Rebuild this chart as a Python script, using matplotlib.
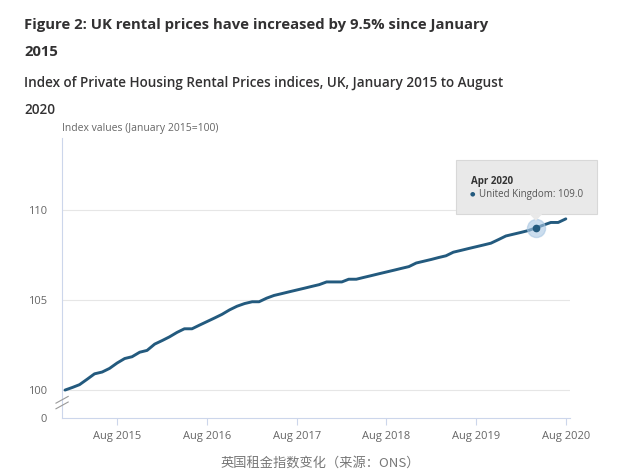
import pandas as pd
import matplotlib.pyplot as plt
import matplotlib.dates as mdates
import matplotlib.transforms as mtransforms
from matplotlib.patches import Rectangle, Polygon

plt.rcParams['font.family'] = ['Open Sans', 'DejaVu Sans']

# monthly UK index, Jan 2015 = 100
months = pd.date_range("2015-01-01", "2020-08-01", freq="MS")
uk_index = [
    100.0, 100.15, 100.3, 100.6, 100.9, 101.0, 101.2, 101.5, 101.75, 101.85, 102.1, 102.2,
    102.55, 102.75, 102.95, 103.2, 103.4, 103.4, 103.6, 103.8, 104.0, 104.2, 104.45, 104.65,
    104.8, 104.9, 104.9, 105.1, 105.25, 105.35, 105.45, 105.55, 105.65, 105.75, 105.85, 106.0,
    106.0, 106.0, 106.15, 106.15, 106.25, 106.35, 106.45, 106.55, 106.65, 106.75, 106.85, 107.05,
    107.15, 107.25, 107.35, 107.45, 107.65, 107.75, 107.85, 107.95, 108.05, 108.15, 108.35, 108.55,
    108.65, 108.75, 108.85, 109.0, 109.15, 109.3, 109.3, 109.5,
]
ytick_values = [100, 105, 110]
xtick_dates = pd.to_datetime(["2015-08-01", "2016-08-01", "2017-08-01",
                              "2018-08-01", "2019-08-01", "2020-08-01"])
xtick_labels = ["Aug 2015", "Aug 2016", "Aug 2017", "Aug 2018", "Aug 2019", "Aug 2020"]
hover_idx = 63  # Apr 2020

line_color = "#235a7e"
axis_color = "#ccd6eb"
text_gray = "#666666"
y_floor = 98.45  # where the broken axis puts "0"

fig = plt.figure(figsize=(6.4, 4.75), dpi=100)
ax = fig.add_axes([0.097, 0.12, 0.794, 0.59])

ax.plot(months, uk_index, color=line_color, lw=2.1, solid_capstyle="round", zorder=3)

# hover marker
ax.plot(months[hover_idx], uk_index[hover_idx], "o", ms=13, color="#a9c7e3", alpha=0.6, zorder=4)
ax.plot(months[hover_idx], uk_index[hover_idx], "o", ms=4.5, color=line_color, zorder=5)

ax.set_xlim(pd.Timestamp("2014-12-20"), pd.Timestamp("2020-08-19"))
ax.set_ylim(y_floor, 114.0)

ax.set_yticks([y_floor] + ytick_values)
ax.set_yticklabels(["0"] + [str(v) for v in ytick_values])
ax.set_xticks(xtick_dates)
ax.set_xticklabels(xtick_labels)
ax.tick_params(axis="y", length=0, pad=11, labelsize=8, labelcolor=text_gray)
ax.tick_params(axis="x", length=5, width=0.8, color=axis_color, pad=4, labelsize=8, labelcolor=text_gray)

for v in ytick_values:
    ax.axhline(v, color="#e6e6e6", lw=0.8, zorder=1)

for side in ["top", "right"]:
    ax.spines[side].set_visible(False)
ax.spines["left"].set_color(axis_color)
ax.spines["bottom"].set_color(axis_color)

# axis break marks
for dy in (0.045, 0.065):
    ax.plot([-0.012, 0.012], [dy - 0.012, dy + 0.012], transform=ax.transAxes,
            color="#999999", lw=0.8, clip_on=False, zorder=6)

# tooltip, laid out in pixels around the hovered point
px = mdates.date2num(months[hover_idx])
tip = mtransforms.IdentityTransform() + mtransforms.ScaledTranslation(px, uk_index[hover_idx], ax.transData)
ax.add_patch(Rectangle((-80, 14), 141, 54, transform=tip, fc="#e9e9e9", ec="#d8d8d8",
                       lw=0.8, clip_on=False, zorder=7))
ax.add_patch(Polygon([(-7, 14.5), (7, 14.5), (0, 7)], closed=True, transform=tip,
                     fc="#e9e9e9", ec="none", clip_on=False, zorder=7))
ax.text(-65, 46.5, "Apr 2020", transform=tip, ha="left", va="center", fontsize=7,
        fontweight="bold", color="#333333", zorder=8)
ax.text(-63, 33.5, "\u25cf", transform=tip, ha="center", va="center", fontsize=4.5,
        color=line_color, zorder=8)
ax.text(-57, 33.5, "United Kingdom: 109.0", transform=tip, ha="left", va="center",
        fontsize=7, color="#555555", zorder=8)

fig.text(0.097, 0.725, "Index values (January 2015=100)", fontsize=7.5, color=text_gray)

fig.text(0.038, 0.948, "Figure 2: UK rental prices have increased by 9.5% since January",
         fontsize=10.7, fontweight="bold", color="#323132", va="center")
fig.text(0.038, 0.891, "2015", fontsize=10.7, fontweight="bold", color="#323132", va="center")
fig.text(0.038, 0.825, "Index of Private Housing Rental Prices indices, UK, January 2015 to August",
         fontsize=9.75, fontweight="semibold", color="#323132", va="center")
fig.text(0.038, 0.768, "2020", fontsize=9.75, fontweight="semibold", color="#323132", va="center")

fig.text(0.5, 0.025, "英国租金指数变化（来源：ONS）", ha="center", va="center", fontsize=9.5,
         color="#777777", family=["Noto Sans CJK SC", "DejaVu Sans"])

plt.savefig("out.png", dpi=100)
